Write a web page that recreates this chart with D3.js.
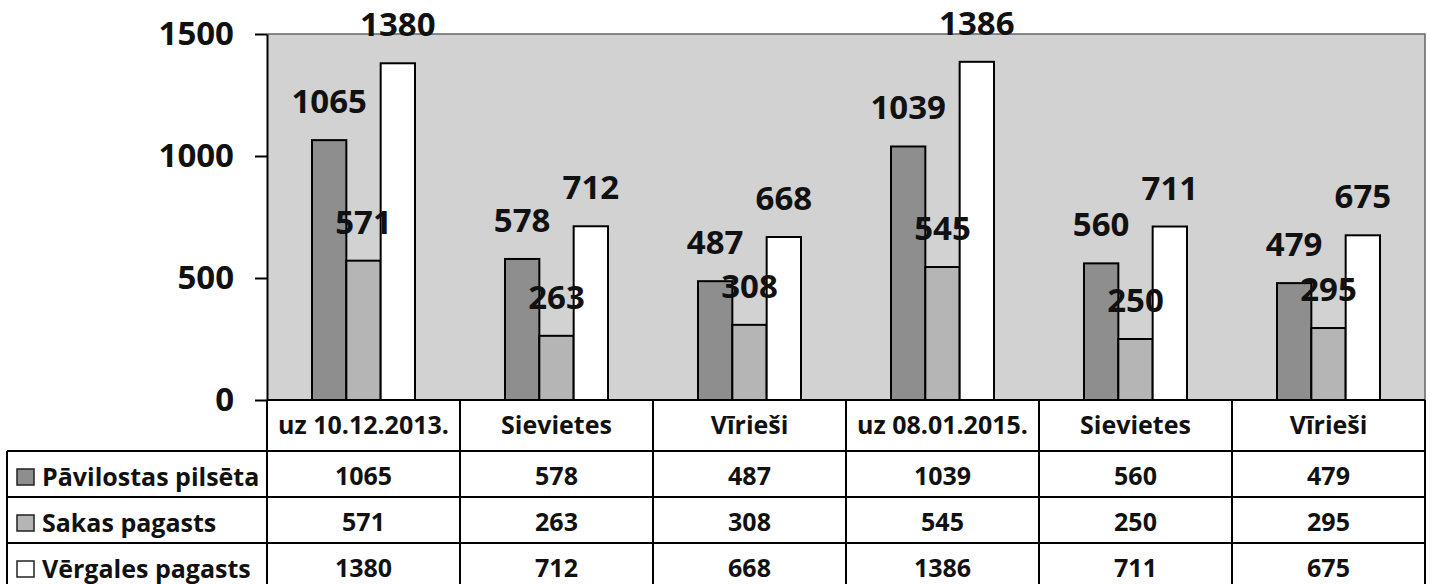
<!DOCTYPE html>
<html>
<head>
<meta charset="utf-8">
<script src="https://cdn.jsdelivr.net/npm/d3@7"></script>
<style>
  body { margin: 0; background: #fff; }
  svg { display: block; font-family: "Open Sans", Lato, sans-serif; font-weight: bold; }
</style>
</head>
<body>
<div id="chart"></div>
<script>
// data
var categories = ["uz 10.12.2013.", "Sievietes", "Vīrieši", "uz 08.01.2015.", "Sievietes", "Vīrieši"];
var seriesNames = ["Pāvilostas pilsēta", "Sakas pagasts", "Vērgales pagasts"];
var pavilostas = [1065, 578, 487, 1039, 560, 479];
var sakas = [571, 263, 308, 545, 250, 295];
var vergales = [1380, 712, 668, 1386, 711, 675];
var yTicks = [0, 500, 1000, 1500];

var seriesValues = [pavilostas, sakas, vergales];
var colors = ["#8e8e8e", "#b5b5b5", "#ffffff"];

var W = 1430, H = 584;
var plot = { left: 267, right: 1425, top: 34, bottom: 400 };

var svg = d3.select("#chart")
    .append("svg")
    .attr("width", W)
    .attr("height", H);

var idx = categories.map(function (d, i) { return i; });

var x0 = d3.scaleBand()
    .domain(idx)
    .range([plot.left, plot.right]);

var x1 = d3.scaleBand()
    .domain(d3.range(seriesNames.length))
    .range([45, x0.bandwidth() - 45]);

var y = d3.scaleLinear()
    .domain([0, 1500])
    .range([plot.bottom, plot.top]);

// plot area
svg.append("rect")
    .attr("x", plot.left)
    .attr("y", plot.top)
    .attr("width", plot.right - plot.left)
    .attr("height", plot.bottom - plot.top)
    .style("fill", "#d2d2d2");

svg.append("path")
    .attr("d", "M" + plot.left + "," + plot.top + "H" + plot.right + "V" + plot.bottom)
    .style("fill", "none")
    .style("stroke", "#666")
    .style("stroke-width", 1.5);

// bars
var groups = svg.selectAll("g.grp")
    .data(idx)
    .enter()
    .append("g")
    .attr("class", "grp")
    .attr("transform", function (i) { return "translate(" + x0(i) + ",0)"; });

groups.selectAll("rect")
    .data(function (i) { return seriesValues.map(function (s, k) { return { k: k, v: s[i] }; }); })
    .enter()
    .append("rect")
    .attr("x", function (d) { return x1(d.k); })
    .attr("y", function (d) { return y(d.v); })
    .attr("width", x1.bandwidth())
    .attr("height", function (d) { return y(0) - y(d.v); })
    .style("fill", function (d) { return colors[d.k]; })
    .style("stroke", "#000")
    .style("stroke-width", 2);

groups.selectAll("text")
    .data(function (i) { return seriesValues.map(function (s, k) { return { k: k, v: s[i] }; }); })
    .enter()
    .append("text")
    .attr("x", function (d) { return x1(d.k) + x1.bandwidth() / 2; })
    .attr("y", function (d) { return y(d.v) - 27; })
    .attr("text-anchor", "middle")
    .style("font-size", "33px")
    .style("fill", "#111")
    .text(function (d) { return d.v; });

// y axis
var yAxis = svg.append("g")
    .attr("transform", "translate(" + plot.left + ",0)")
    .call(d3.axisLeft(y).tickValues(yTicks).tickFormat(d3.format("d"))
        .tickSize(12).tickSizeOuter(0).tickPadding(21));

yAxis.select(".domain").style("stroke", "#000").style("stroke-width", 2);
yAxis.selectAll(".tick line").style("stroke", "#000").style("stroke-width", 2);
yAxis.selectAll(".tick text")
    .style("font-family", "'Open Sans', Lato, sans-serif")
    .style("font-weight", "bold")
    .style("font-size", "33px")
    .style("fill", "#111");

// data table
var headerTop = 400, rowTop = 451, tableBottom = 589;
var legendLeft = 7;

var rowY = d3.scaleBand()
    .domain(d3.range(seriesNames.length))
    .range([rowTop, tableBottom]);

var lines = svg.append("g")
    .style("stroke", "#000")
    .style("stroke-width", 2)
    .style("fill", "none");

// horizontal lines
lines.append("line")
    .attr("x1", plot.left).attr("x2", plot.right)
    .attr("y1", headerTop).attr("y2", headerTop);
rowY.domain().concat([seriesNames.length]).forEach(function (k) {
    var yy = k < seriesNames.length ? rowY(k) : tableBottom;
    lines.append("line")
        .attr("x1", legendLeft).attr("x2", plot.right)
        .attr("y1", yy).attr("y2", yy);
});

// vertical lines
lines.append("line")
    .attr("x1", legendLeft).attr("x2", legendLeft)
    .attr("y1", rowTop).attr("y2", tableBottom);
idx.concat([categories.length]).forEach(function (i) {
    var xx = i < categories.length ? x0(i) : plot.right;
    lines.append("line")
        .attr("x1", xx).attr("x2", xx)
        .attr("y1", headerTop).attr("y2", tableBottom);
});

// header texts
svg.selectAll("text.cat")
    .data(idx)
    .enter()
    .append("text")
    .attr("class", "cat")
    .attr("x", function (i) { return x0(i) + x0.bandwidth() / 2; })
    .attr("y", (headerTop + rowTop) / 2)
    .attr("dy", "0.35em")
    .attr("text-anchor", "middle")
    .style("font-size", "25px")
    .style("fill", "#111")
    .text(function (i) { return categories[i]; });

// legend column
var legendRows = svg.selectAll("g.leg")
    .data(d3.range(seriesNames.length))
    .enter()
    .append("g")
    .attr("class", "leg")
    .attr("transform", function (k) { return "translate(0," + (rowY(k) + rowY.bandwidth() / 2) + ")"; });

legendRows.append("rect")
    .attr("x", 17)
    .attr("y", -5)
    .attr("width", 17)
    .attr("height", 16)
    .style("fill", function (k) { return colors[k]; })
    .style("stroke", "#222")
    .style("stroke-width", 1.5);

legendRows.append("text")
    .attr("x", 42)
    .attr("y", 3)
    .attr("dy", "0.35em")
    .style("font-size", "25px")
    .style("fill", "#111")
    .text(function (k) { return seriesNames[k]; });

// values in cells
seriesValues.forEach(function (s, k) {
    svg.selectAll("text.v" + k)
        .data(idx)
        .enter()
        .append("text")
        .attr("class", "v" + k)
        .attr("x", function (i) { return x0(i) + x0.bandwidth() / 2; })
        .attr("y", rowY(k) + rowY.bandwidth() / 2 + 2)
        .attr("dy", "0.35em")
        .attr("text-anchor", "middle")
        .style("font-size", "25px")
        .style("fill", "#111")
        .text(function (i) { return s[i]; });
});
</script>
</body>
</html>
